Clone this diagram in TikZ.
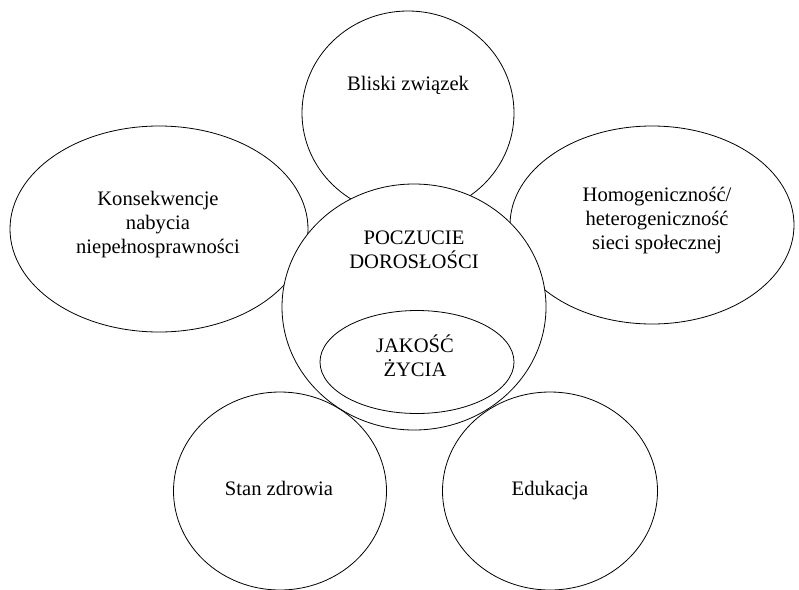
\documentclass[tikz,border=0pt]{standalone}
\usepackage{fontspec}
\setmainfont{Liberation Serif}
\usetikzlibrary{shapes,positioning}
\begin{document}
\begin{tikzpicture}[x=1pt,y=1pt]
                \tikzstyle{every node}+=[inner sep=0pt]
                \tikzstyle{blob}=[draw=black, ellipse, line width=0.8pt]
                \tikzstyle{txt}=[align=center, font=\fontsize{20.6}{24}\selectfont]
                \useasboundingbox (0,0) rectangle (799,-589);
                % outer ellipses
                \node [blob, minimum width=212, minimum height=204] (bliski) at (408,-113) {};
                \node [blob, minimum width=298, minimum height=206] (konsekw) at (159,-229) {};
                \node [blob, minimum width=284, minimum height=198] (homog) at (652,-225) {};
                \node [blob, minimum width=213, minimum height=198] (zdrowie) at (280,-491) {};
                \node [blob, minimum width=215, minimum height=198] (eduk) at (550,-491) {};
                % centre
                \node [blob, fill=white, minimum width=264, minimum height=246] (dorosl) at (414,-307) {};
                \node [blob, minimum width=194, minimum height=103] (jakosc) at (417,-362) {};
                % texts
                \node [txt] (tbliski) at (408,-85) {Bliski związek};
                \node [txt] (tkonsekw) at (158,-225) {Konsekwencje\\nabycia\\niepełnosprawności};
                \node [txt] (thomog) at (657,-221) {Homogeniczność/\\heterogeniczność\\sieci społecznej};
                \node [txt] (tdorosl) at (414,-250) {POCZUCIE\\DOROSŁOŚCI};
                \node [txt] (tjakosc) at (415,-356) {JAKOŚĆ\\ŻYCIA};
                \node [txt, anchor=base] (tzdrowie) at (279,-495) {Stan zdrowia};
                \node [txt, anchor=base] (teduk) at (550,-495) {Edukacja};
\end{tikzpicture}
\end{document}
